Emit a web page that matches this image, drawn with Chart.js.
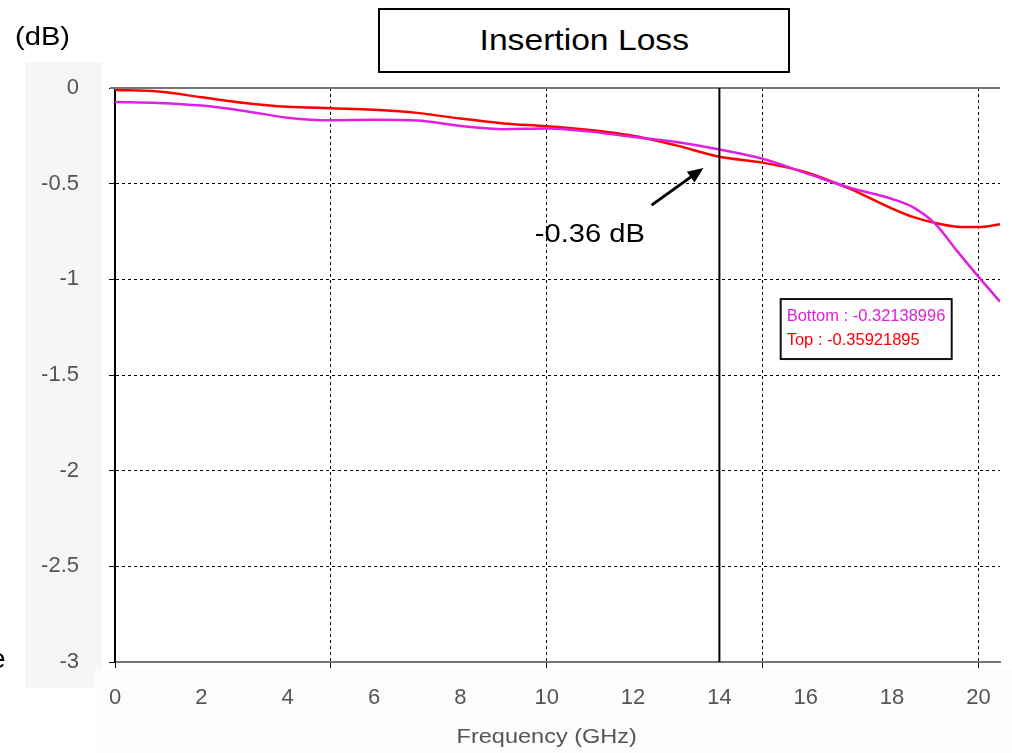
<!DOCTYPE html>
<html>
<head>
<meta charset="utf-8">
<script src="https://cdn.jsdelivr.net/npm/chart.js@4.4.1/dist/chart.umd.min.js"></script>
<style>
  html, body { margin: 0; padding: 0; background: #fff; }
  #wrap { position: relative; width: 1012px; height: 753px; overflow: hidden; }
  #title-box {
    position: absolute; left: 378px; top: 8px; width: 408px; height: 61px;
    border: 2px solid #000; background: #fff;
    font: 29px "Liberation Sans", Arial, sans-serif; color: #000;
    display: flex; align-items: center; justify-content: center;
  }
  #title-box span { display: inline-block; transform: scaleX(1.16); }
  #unit { position: absolute; left: 15px; top: 21px; font: 26px "Liberation Sans", Arial, sans-serif; color: #000;
          transform: scaleX(1.12); transform-origin: left center; }
  #stray { position: absolute; left: -10px; top: 643px; font: 28px "Liberation Sans", Arial, sans-serif; color: #000; }
</style>
</head>
<body>
<div id="wrap">
  <canvas id="chart"></canvas>
  <div id="title-box"><span>Insertion Loss</span></div>
  <div id="unit">(dB)</div>
  <div id="stray">e</div>
</div>
<script>
// Frequency points (GHz) and insertion loss (dB)
const freqGHz    = [0, 1, 2, 3, 4, 5, 6, 7, 8, 9, 10, 11, 12, 13, 14, 15, 16, 17, 18, 18.5, 19, 19.5, 20, 20.5];
const topLoss    = [-0.01, -0.018, -0.048, -0.078, -0.098, -0.106, -0.114, -0.13, -0.16, -0.185, -0.2, -0.22, -0.25, -0.3, -0.359, -0.39, -0.44, -0.525, -0.63, -0.675, -0.706, -0.725, -0.727, -0.712];
const bottomLoss = [-0.073, -0.078, -0.092, -0.12, -0.155, -0.169, -0.166, -0.17, -0.198, -0.215, -0.212, -0.228, -0.256, -0.282, -0.321, -0.37, -0.445, -0.52, -0.58, -0.625, -0.71, -0.85, -0.986, -1.117];

// x ticks: labels every 2 GHz, dashed grid every 5 GHz
const xTicks = [0, 1, 2, 3, 4, 5, 6, 7, 8, 9, 10, 11, 12, 13, 14, 15, 16, 17, 18, 19, 20];
const xLabelEvery = 2;
const xGridEvery = 5;

// marker readout
const markerFreq = 14;
const markerLabels = ['Bottom : -0.32138996', 'Top : -0.35921895'];
const markerColors = ['#e020e0', '#ff0000'];

// annotation arrow (GHz, dB)
const noteText = '-0.36 dB';
const noteAt = { x: 11.0, y: -0.77 };
const arrowFrom = { x: 12.43, y: -0.612 };
const arrowTo = { x: 13.63, y: -0.418 };
const legendAt = { x: 15.42, y: -1.103 };
const xTitle = 'Frequency (GHz)';

const toPoints = (xs, ys) => xs.map((x, i) => ({ x: x, y: ys[i] }));
const FONT = '"Liberation Sans", Arial, sans-serif';

// stretched text, like the pasted figure
function wideText(ctx, text, x, y, sx) {
  ctx.save();
  ctx.translate(x, y);
  ctx.scale(sx, 1);
  ctx.fillText(text, 0, 0);
  ctx.restore();
}

// background, top border, marker line, arrow, readout box
const extras = {
  id: 'extras',
  beforeDraw(chart) {
    const { ctx } = chart;
    ctx.save();
    ctx.fillStyle = '#f6f6f6';
    ctx.fillRect(25, 62, 77, 626);
    ctx.fillStyle = '#fcfcfc';
    ctx.fillRect(95, 670, 917, 83);
    ctx.restore();
  },
  afterDatasetsDraw(chart) {
    const { ctx, chartArea: a, scales: { x, y } } = chart;
    ctx.save();
    // top border
    ctx.strokeStyle = '#777';
    ctx.lineWidth = 2;
    ctx.beginPath();
    ctx.moveTo(a.left - 5, a.top);
    ctx.lineTo(a.right, a.top);
    ctx.stroke();

    // marker line
    const mx = x.getPixelForValue(markerFreq);
    ctx.strokeStyle = '#000';
    ctx.lineWidth = 2;
    ctx.beginPath();
    ctx.moveTo(mx, a.top);
    ctx.lineTo(mx, a.bottom);
    ctx.stroke();

    // arrow
    const x1 = x.getPixelForValue(arrowFrom.x), y1 = y.getPixelForValue(arrowFrom.y);
    const x2 = x.getPixelForValue(arrowTo.x), y2 = y.getPixelForValue(arrowTo.y);
    const ang = Math.atan2(y2 - y1, x2 - x1);
    const head = 17;
    ctx.lineWidth = 3;
    ctx.beginPath();
    ctx.moveTo(x1, y1);
    ctx.lineTo(x2 - Math.cos(ang) * head * 0.8, y2 - Math.sin(ang) * head * 0.8);
    ctx.stroke();
    ctx.fillStyle = '#000';
    ctx.beginPath();
    ctx.moveTo(x2, y2);
    ctx.lineTo(x2 - head * Math.cos(ang - 0.4), y2 - head * Math.sin(ang - 0.4));
    ctx.lineTo(x2 - head * Math.cos(ang + 0.4), y2 - head * Math.sin(ang + 0.4));
    ctx.closePath();
    ctx.fill();

    ctx.font = '26px ' + FONT;
    ctx.textAlign = 'center';
    ctx.textBaseline = 'middle';
    wideText(ctx, noteText, x.getPixelForValue(noteAt.x), y.getPixelForValue(noteAt.y), 1.12);

    // axis title, centred under the 10 GHz gridline
    ctx.fillStyle = '#555';
    ctx.font = '21px ' + FONT;
    wideText(ctx, xTitle, x.getPixelForValue(10), 737, 1.12);

    // readout box
    const bx = x.getPixelForValue(legendAt.x), by = y.getPixelForValue(legendAt.y);
    ctx.fillStyle = '#fff';
    ctx.fillRect(bx, by, 171, 60);
    ctx.strokeStyle = '#111';
    ctx.lineWidth = 2;
    ctx.strokeRect(bx, by, 171, 60);
    ctx.font = '16.5px ' + FONT;
    ctx.textAlign = 'left';
    markerLabels.forEach((t, i) => {
      ctx.fillStyle = markerColors[i];
      ctx.fillText(t, bx + 6, by + 17 + i * 24);
    });
    ctx.restore();
  }
};

const ctx = document.getElementById('chart').getContext('2d');
new Chart(ctx, {
  type: 'line',
  data: {
    datasets: [{
      label: 'Bottom',
      data: toPoints(freqGHz, bottomLoss),
      borderColor: '#e020e0',
      borderWidth: 2.5,
      pointRadius: 0,
      cubicInterpolationMode: 'monotone',
      fill: false
    }, {
      label: 'Top',
      data: toPoints(freqGHz, topLoss),
      borderColor: '#ff0000',
      borderWidth: 2.5,
      pointRadius: 0,
      cubicInterpolationMode: 'monotone',
      fill: false
    }]
  },
  options: {
    responsive: true,
    maintainAspectRatio: false,
    animation: false,
    layout: { padding: { top: 88, right: 12, left: 0, bottom: 0 } },
    plugins: { legend: { display: false }, tooltip: { enabled: false } },
    scales: {
      x: {
        type: 'linear',
        min: 0,
        max: 20.5,
        afterBuildTicks: (s) => { s.ticks = xTicks.map(v => ({ value: v })); },
        afterFit: (s) => { s.height = 91; },
        ticks: {
          autoSkip: false,
          maxRotation: 0,
          color: '#555',
          font: { family: FONT, size: 22 },
          padding: 17,
          callback: (v) => (v % xLabelEvery === 0 ? String(v) : '')
        },
        grid: {
          color: (c) => (c.tick && c.tick.value % xGridEvery === 0 && c.tick.value > 0 ? '#000' : 'rgba(0,0,0,0)'),
          lineWidth: 1,
          tickLength: 6,
          tickColor: (c) => (c.tick && c.tick.value % xGridEvery === 0 ? '#000' : 'rgba(0,0,0,0)')
        },
        border: { color: '#777', width: 2, dash: [3, 3] }
      },
      y: {
        min: -3,
        max: 0,
        afterFit: (s) => { s.width = 115; },
        ticks: {
          stepSize: 0.5,
          color: '#555',
          font: { family: FONT, size: 22 },
          padding: 30,
          callback: (v) => String(v)
        },
        grid: {
          color: (c) => (c.tick && c.tick.value < 0 && c.tick.value > -3 ? '#000' : 'rgba(0,0,0,0)'),
          lineWidth: 1,
          tickLength: 6,
          tickColor: '#000'
        },
        border: { color: '#000', width: 2, dash: [3, 3] }
      }
    }
  },
  plugins: [extras]
});
</script>
</body>
</html>
